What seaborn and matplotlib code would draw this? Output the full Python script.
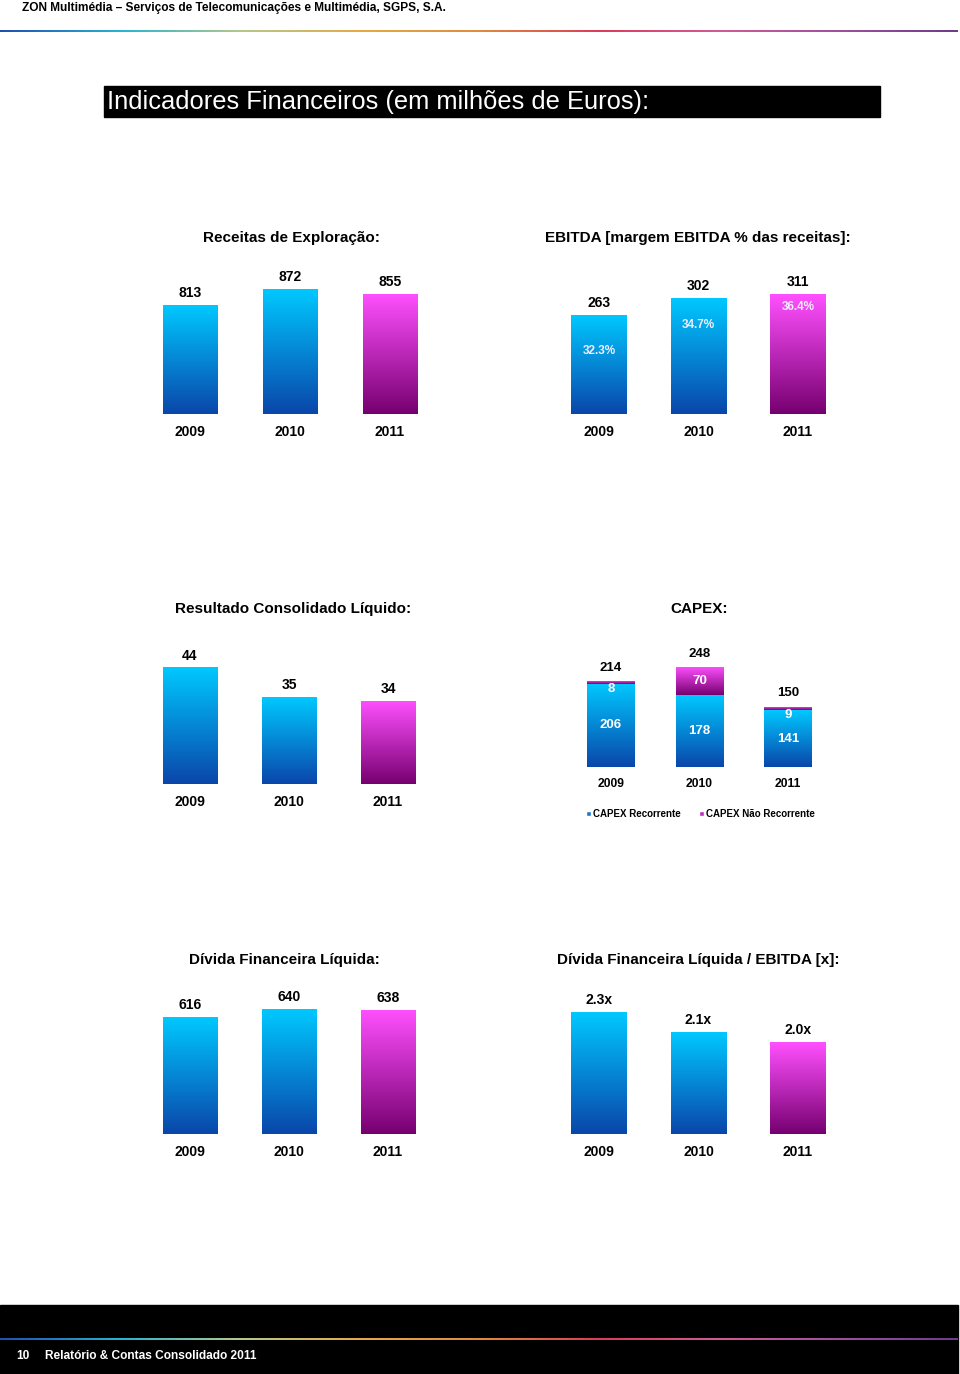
import numpy as np
import matplotlib
matplotlib.use("Agg")
import matplotlib.pyplot as plt
from matplotlib.patches import Patch, Rectangle
from matplotlib.colors import LinearSegmentedColormap
import seaborn as sns

sns.set_style("white")
plt.rcParams['font.family'] = ['Liberation Sans', 'DejaVu Sans']
plt.rcParams['text.color'] = 'black'
plt.rcParams['xtick.color'] = 'black'
NARROW = ['Liberation Sans Narrow', 'Liberation Sans', 'DejaVu Sans']

# data
years = ['2009', '2010', '2011']
receitas = [813, 872, 855]
ebitda = [263, 302, 311]
margem = [32.3, 34.7, 36.4]
resultado = [44, 35, 34]
capex_rec = [206, 178, 141]
capex_nrec = [8, 70, 9]
capex_total = [214, 248, 150]
divida = [616, 640, 638]
divida_ebitda = [2.3, 2.1, 2.0]
divida_ebitda_lbl = ['2.3x', '2.1x', '2.0x']

BLUE = ('#00C8FF', '#0A46AA')
MAG = ('#FF50FF', '#760070')
W, H = 960, 1374

fig = plt.figure(figsize=(W / 100, H / 100), dpi=100)


def px_axes(left, bottom, width, height):
    # pixel box (from top-left) -> figure axes
    return fig.add_axes([left / W, 1 - bottom / H, width / W, height / H])


def grad_fill(ax, patch, colors, lo=None):
    x, w = patch.get_x(), patch.get_width()
    y, h = patch.get_y(), patch.get_height()
    lo = max(y if lo is None else lo, ax.get_ylim()[0])
    cmap = LinearSegmentedColormap.from_list('g', [colors[1], colors[0]])
    im = ax.imshow(np.linspace(0, 1, 256).reshape(-1, 1), cmap=cmap, origin='lower',
                   extent=(x, x + w, lo, y + h), aspect='auto',
                   zorder=patch.get_zorder() + 0.1)
    im.set_clip_path(patch)


def clean(ax, fs=10, pad=7.7):
    ax.set_xlabel('')
    ax.set_ylabel('')
    ax.set_yticks([])
    sns.despine(ax=ax, left=True, bottom=True)
    ax.tick_params(axis='x', length=0, pad=pad, labelsize=fs)
    for t in ax.get_xticklabels():
        t.set_fontweight('bold')


def bar_chart(vals, labels, cx, bottom, spacing, v0, k, width=0.55, height=150):
    ax = px_axes(cx - spacing * 1.5, bottom, spacing * 3, height)
    sns.barplot(x=years, y=vals, hue=years, palette=[BLUE[0], BLUE[0], MAG[0]],
                width=width, saturation=1, legend=False, ax=ax)
    ax.set_xlim(-0.5, 2.5)
    ax.set_ylim(v0, v0 + height / k)
    ax.set_autoscale_on(False)
    for p, c in zip(ax.patches, [BLUE, BLUE, MAG]):
        grad_fill(ax, p, c)
    for i, (v, lbl) in enumerate(zip(vals, labels)):
        ax.annotate(lbl, (i, v), xytext=(0, 8.6), textcoords='offset points',
                    ha='center', va='center', fontsize=10, fontweight='bold')
    clean(ax)
    return ax


def title(x, y, s):
    fig.text(x / W, 1 - y / H, s, ha='center', va='center', fontsize=11, fontweight='bold')


def rainbow(y, thick=2.5):
    ax = px_axes(0, y + thick / 2, 958, thick)
    cmap = LinearSegmentedColormap.from_list(
        'rb', ['#1E50B4', '#28B4D2', '#B4C88C', '#E6AA46', '#E08C3C', '#DC3C5A',
               '#D25A96', '#A050A0', '#6E3C8C'])
    ax.imshow(np.linspace(0, 1, 512).reshape(1, -1), cmap=cmap, aspect='auto',
              extent=(0, 1, 0, 1))
    ax.axis('off')


# header
fig.text(22 / W, 1 - 8 / H, 'ZON Multimédia – Serviços de Telecomunicações e Multimédia, SGPS, S.A.',
         family=NARROW, fontsize=8.6, fontweight='bold', va='center')
rainbow(31)

fig.add_artist(Rectangle((104 / W, 1 - 117 / H), 776 / W, 31 / H,
                         transform=fig.transFigure, color='black', zorder=-5))
fig.text(107 / W, 1 - 102 / H, 'Indicadores Financeiros (em milhões de Euros):',
         family=NARROW, fontsize=18.4, color='white', va='center')

# row 1
title(291, 238, 'Receitas de Exploração:')
bar_chart(receitas, [str(v) for v in receitas], 290, 414, 100, 411, 0.271)

title(698, 238, 'EBITDA [margem EBITDA % das receitas]:')
ax = bar_chart(ebitda, [str(v) for v in ebitda], 698.5, 414, 99.5, 36, 0.436, width=0.56)
ax2 = ax.twinx()
ax2.set_ylim(26.4, 40.4)
ax2.axis('off')
for i, m in enumerate(margem):
    ax2.text(i, m, f'{m:.1f}%', ha='center', va='center', fontsize=8.5,
             fontweight='bold', color='#F0EEFF')

# row 2
title(293, 609, 'Resultado Consolidado Líquido:')
bar_chart(resultado, [str(v) for v in resultado], 289, 784, 99, 9, 3.33, width=0.555)

title(699, 609, 'CAPEX:')
ax = px_axes(566.75, 767, 265.5, 150)
sns.barplot(x=years, y=capex_total, color=MAG[0], width=0.54, saturation=1, ax=ax)
sns.barplot(x=years, y=capex_rec, color=BLUE[0], width=0.54, saturation=1, ax=ax)
ax.set_xlim(-0.5, 2.5)
ax.set_ylim(0, 150 / 0.403)
ax.set_autoscale_on(False)
tot_p, rec_p = ax.patches[:3], ax.patches[3:6]
for pt, pr in zip(tot_p, rec_p):
    grad_fill(ax, pt, MAG, lo=pr.get_height())
    grad_fill(ax, pr, BLUE)
for i in range(3):
    r, n, t = capex_rec[i], capex_nrec[i], capex_total[i]
    ax.annotate(str(t), (i, t), xytext=(0, 9.4), textcoords='offset points',
                ha='center', va='center', fontsize=9.5, fontweight='bold')
    ax.text(i, r / 2, str(r), ha='center', va='center', fontsize=9.5,
            fontweight='bold', color='white')
    if n >= 20:
        ax.text(i, r + n / 2, str(n), ha='center', va='center', fontsize=9.5,
                fontweight='bold', color='white')
    else:
        ax.annotate(str(n), (i, r), xytext=(0, -3.6), textcoords='offset points',
                    ha='center', va='center', fontsize=9.5, fontweight='bold', color='white')
clean(ax, fs=8.7, pad=8.2)
fig.legend(handles=[Patch(facecolor='#1A78D2'), Patch(facecolor='#C02EC0')],
           labels=['CAPEX Recorrente', 'CAPEX Não Recorrente'],
           loc='center left', bbox_to_anchor=(586 / W, 1 - 814 / H), ncol=2,
           frameon=False, prop={'size': 7, 'weight': 'bold'}, handlelength=0.55,
           handleheight=0.55, handletextpad=0.2, columnspacing=1.8,
           borderpad=0, borderaxespad=0)

# row 3
title(284, 960, 'Dívida Financeira Líquida:')
bar_chart(divida, [str(v) for v in divida], 289, 1134, 99, 265, 0.333)

title(698, 960, 'Dívida Financeira Líquida / EBITDA [x]:')
bar_chart(divida_ebitda, divida_ebitda_lbl, 698.5, 1134, 99.5, 1.08, 100, width=0.56)

# footer
fig.add_artist(Rectangle((0, 0), 958 / W, 69 / H, transform=fig.transFigure,
                         color='black', zorder=-5))
rainbow(1339)
fig.text(16 / W, 1 - 1356 / H, '10', family=NARROW, fontsize=8.6, fontweight='bold',
         color='white', va='center')
fig.text(45 / W, 1 - 1356 / H, 'Relatório & Contas Consolidado 2011', family=NARROW,
         fontsize=8.6, fontweight='bold', color='white', va='center')

fig.savefig('out.png', dpi=100)
